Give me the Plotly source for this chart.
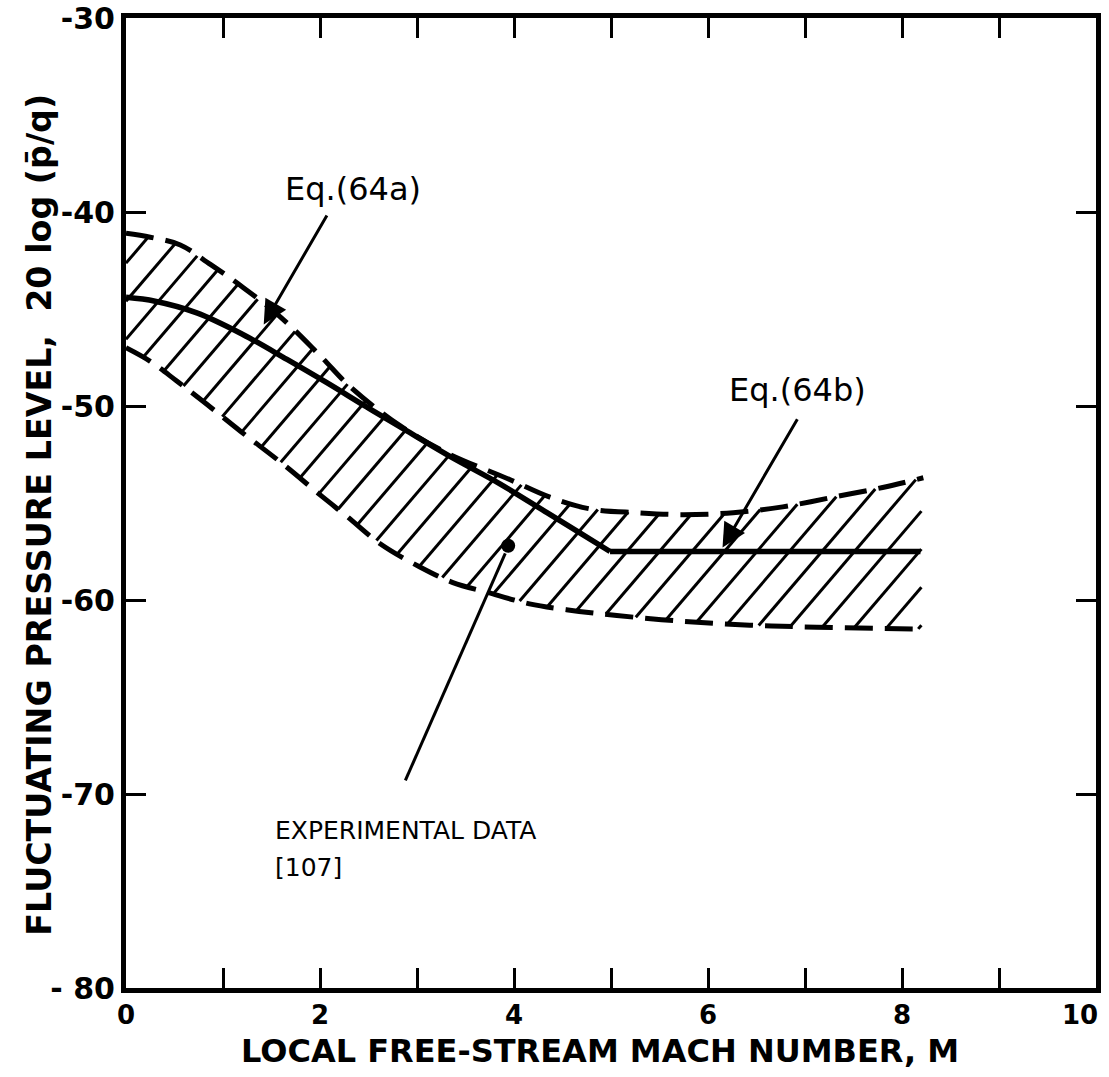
import numpy as np
import plotly.graph_objects as go

# ---------------- data ----------------
mach_64a = [0.0, 0.3, 0.73, 1.2, 1.66, 2.07, 2.48, 2.9, 3.34, 3.85, 4.34, 4.7, 4.99]
level_64a = [-44.4, -44.6, -45.2, -46.3, -47.6, -48.8, -50.05, -51.3, -52.6, -54.0, -55.5, -56.6, -57.5]
mach_64b = [4.99, 6.0, 7.0, 8.19]
level_64b = [-57.5, -57.5, -57.5, -57.5]

mach_upper = [0.0, 0.25, 0.56, 0.87, 1.21, 1.59, 2.0, 2.31, 2.82, 3.3, 3.96, 4.37, 4.78, 5.27, 5.74, 6.26, 6.77, 7.29, 7.8, 8.22]
level_upper = [-41.1, -41.3, -41.7, -42.7, -43.9, -45.4, -47.4, -49.0, -51.0, -52.4, -53.8, -54.7, -55.3, -55.5, -55.6, -55.5, -55.2, -54.7, -54.2, -53.7]

mach_lower = [0.0, 0.25, 0.52, 0.83, 1.18, 1.62, 2.03, 2.28, 2.62, 3.03, 3.37, 3.72, 4.16, 4.54, 5.06, 5.74, 6.43, 7.12, 8.2]
level_lower = [-47.0, -47.7, -48.7, -49.9, -51.3, -53.0, -54.7, -55.7, -57.1, -58.3, -59.1, -59.6, -60.2, -60.5, -60.8, -61.1, -61.3, -61.4, -61.5]

exp_mach = [3.94]
exp_level = [-57.2]

x_tick_vals = [0, 1, 2, 3, 4, 5, 6, 7, 8, 9, 10]
x_tick_text = ["0", "", "2", "", "4", "", "6", "", "8", "", ""]
y_tick_vals = [-80, -70, -60, -50, -40, -30]
y_tick_text = ["- 80", "-70", "-60", "-50", "-40", "-30"]
x_last_label = "10"
x_last_value = 10

x_title = "LOCAL FREE-STREAM MACH NUMBER, M"
y_title = "FLUCTUATING PRESSURE LEVEL,  20 log (p̄/q)"

# hatch geometry (pixel slope ~1.17 -> data slope with 97 px/unit x, 19.4 px/unit y)
hatch_slope = 5.85
hatch_step = 0.335

# annotation anchor points
eq64a_text = (2.34, -38.8)
eq64a_tail = (2.08, -40.1)
eq64a_tip = (1.42, -45.8)
eq64b_text = (6.92, -49.2)
eq64b_tail = (6.93, -50.6)
eq64b_tip = (6.15, -57.3)
exp_text = (1.52, -71.9)
exp_ref_text = (1.52, -73.8)
exp_leader_start = (2.88, -69.3)

FONT = "DejaVu Sans"

# ---------------- hatch lines built from the band boundaries ----------------
xmax = min(mach_lower[-1], mach_upper[-1])
xs = np.linspace(0, xmax, 4000)
lo = np.interp(xs, mach_lower, level_lower)
up = np.interp(xs, mach_upper, level_upper)
hx, hy = [], []
for c in np.arange(-8, 8.4, hatch_step):
    yl = -62 + hatch_slope * (xs - c)
    mask = (yl >= lo) & (yl <= up)
    if not mask.any():
        continue
    idx = np.where(mask)[0]
    runs = np.split(idx, np.where(np.diff(idx) > 1)[0] + 1)
    for r in runs:
        hx += [xs[r[0]], xs[r[-1]], None]
        hy += [yl[r[0]], yl[r[-1]], None]

fig = go.Figure()
fig.add_trace(go.Scatter(x=hx, y=hy, mode="lines", line=dict(color="black", width=3),
                         hoverinfo="skip", showlegend=False))
fig.add_trace(go.Scatter(x=mach_upper, y=level_upper, mode="lines",
                         line=dict(color="black", width=5, dash="28px,12px", shape="spline"),
                         showlegend=False))
fig.add_trace(go.Scatter(x=mach_lower, y=level_lower, mode="lines",
                         line=dict(color="black", width=5, dash="28px,12px", shape="spline"),
                         showlegend=False))
fig.add_trace(go.Scatter(x=mach_64a, y=level_64a, mode="lines",
                         line=dict(color="black", width=5.5, shape="spline"),
                         showlegend=False))
fig.add_trace(go.Scatter(x=mach_64b, y=level_64b, mode="lines",
                         line=dict(color="black", width=5.5),
                         showlegend=False))
fig.add_trace(go.Scatter(x=exp_mach, y=exp_level, mode="markers",
                         marker=dict(color="black", size=14), showlegend=False))
fig.add_trace(go.Scatter(x=[exp_leader_start[0], exp_mach[0] - 0.03],
                         y=[exp_leader_start[1], exp_level[0] - 0.4], mode="lines",
                         line=dict(color="black", width=3), showlegend=False))

anns = []
def arrow(tip, tail):
    anns.append(dict(x=tip[0], y=tip[1], ax=tail[0], ay=tail[1], xref="x", yref="y",
                     axref="x", ayref="y", text="", showarrow=True, arrowhead=2,
                     arrowsize=1.6, arrowwidth=3, arrowcolor="black"))
arrow(eq64a_tip, eq64a_tail)
arrow(eq64b_tip, eq64b_tail)
anns.append(dict(x=eq64a_text[0], y=eq64a_text[1], xref="x", yref="y", text="Eq.(64a)",
                 showarrow=False, font=dict(family=FONT, size=32, color="black")))
anns.append(dict(x=eq64b_text[0], y=eq64b_text[1], xref="x", yref="y", text="Eq.(64b)",
                 showarrow=False, font=dict(family=FONT, size=32, color="black")))
anns.append(dict(x=exp_text[0], y=exp_text[1], xref="x", yref="y", text="EXPERIMENTAL DATA",
                 xanchor="left", showarrow=False, font=dict(family=FONT, size=25, color="black")))
anns.append(dict(x=exp_ref_text[0], y=exp_ref_text[1], xref="x", yref="y", text="[107]",
                 xanchor="left", showarrow=False, font=dict(family=FONT, size=25, color="black")))
# last x tick label, nudged inside the page
anns.append(dict(x=x_last_value, y=0, xref="x", yref="paper", text=x_last_label,
                 xanchor="right", yanchor="middle", xshift=4, yshift=-27, showarrow=False,
                 font=dict(family=FONT, size=26, color="black", weight="bold")))
# axis titles
anns.append(dict(x=0.489, y=0, xref="paper", yref="paper", text=x_title,
                 xanchor="center", yanchor="middle", yshift=-63, showarrow=False,
                 font=dict(family=FONT, size=32, color="black", weight="bold")))
anns.append(dict(x=0, y=0.488, xref="paper", yref="paper", text=y_title, textangle=-90,
                 xanchor="center", yanchor="middle", xshift=-86, showarrow=False,
                 font=dict(family=FONT, size=33.3, color="black", weight="bold")))

axis_common = dict(showline=True, linewidth=5, linecolor="black", mirror="allticks",
                   ticks="inside", ticklen=20, tickwidth=3, tickcolor="black",
                   showgrid=False, zeroline=False, automargin=False,
                   ticklabeloverflow="allow")

fig.update_layout(
    width=1109, height=1077,
    margin=dict(l=126, r=13, t=18, b=89),
    plot_bgcolor="white", paper_bgcolor="white",
    annotations=anns,
    xaxis=dict(range=[0, 10], tickvals=x_tick_vals, ticktext=x_tick_text,
               tickfont=dict(family=FONT, size=26, color="black", weight="bold"),
               **axis_common),
    yaxis=dict(range=[-80, -30], tickvals=y_tick_vals, ticktext=y_tick_text,
               tickfont=dict(family=FONT, size=30, color="black", weight="bold"),
               **axis_common),
)

# remove the default page margin so the figure fills the window exactly
fig.write_html("out.html", config={"displayModeBar": False},
               post_script="document.body.style.margin='0';document.body.style.overflow='hidden';")
